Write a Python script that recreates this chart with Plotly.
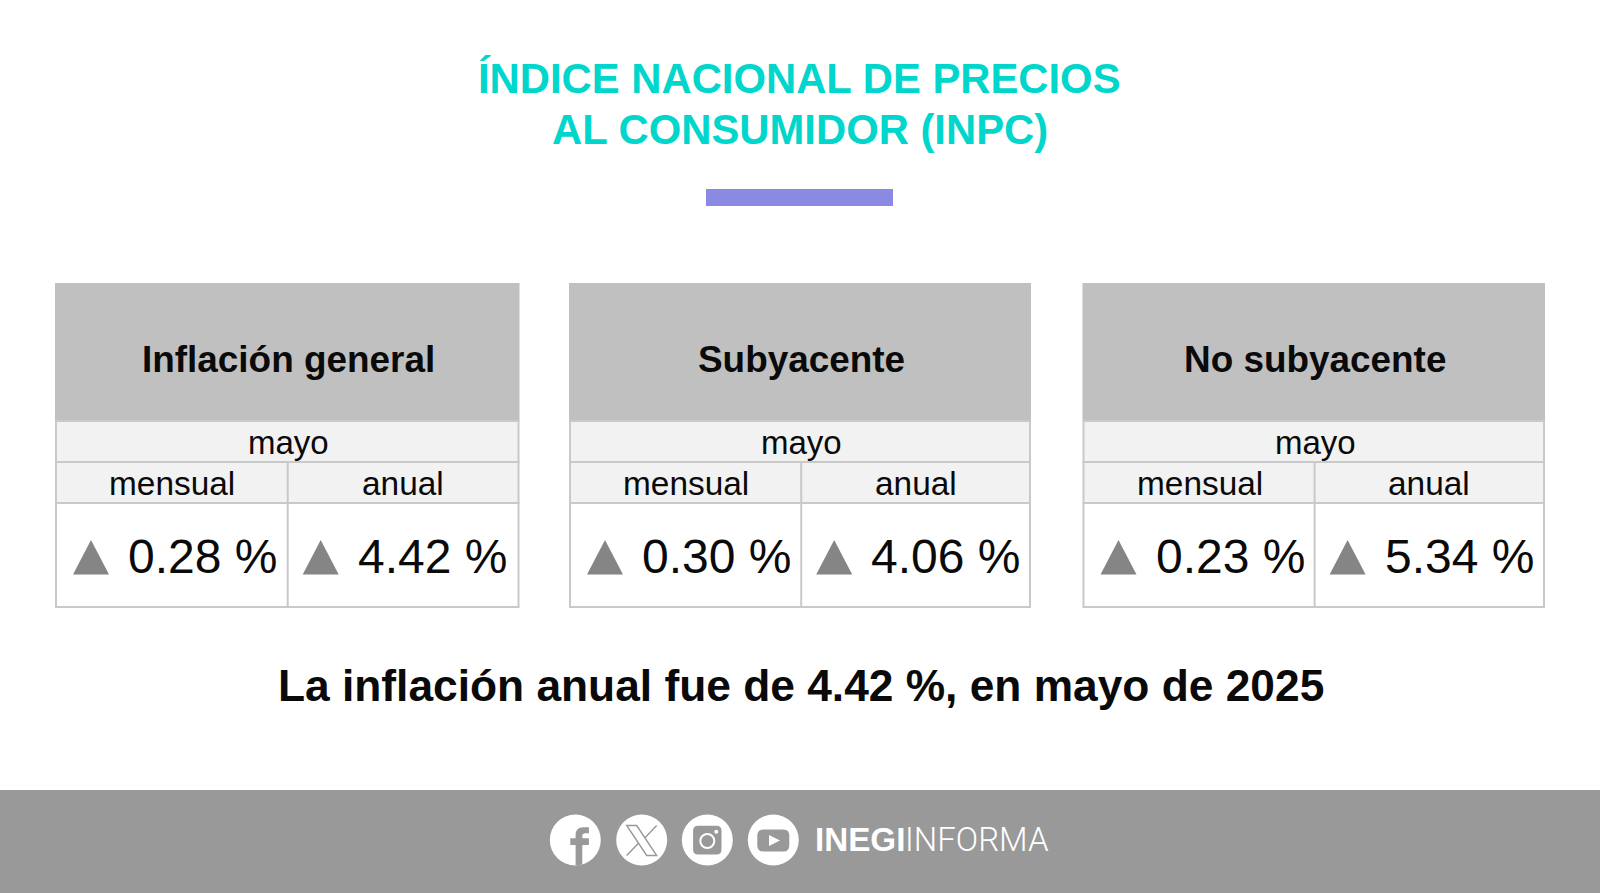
import plotly.graph_objects as go

# ---- data ----
TITLE_LINES = ["ÍNDICE NACIONAL DE PRECIOS", "AL CONSUMIDOR (INPC)"]
PANELS = ["Inflación general", "Subyacente", "No subyacente"]
PERIOD = "mayo"
COLUMNS = ["mensual", "anual"]
MENSUAL = [0.28, 0.30, 0.23]
ANUAL = [4.42, 4.06, 5.34]
SENTENCE = "La inflación anual fue de 4.42 %, en mayo de 2025"

# ---- layout ----
W, H = 1600, 893
FONT = "Liberation Sans, Arial, sans-serif"
GRAY_HEAD, GRAY_SUB, BORDER, TRI, FOOT = "#C0C0C0", "#F2F2F2", "#C9C9C9", "#858585", "#999999"
TEAL, VIOLET = "#00D6CB", "#8A8AE2"
PANEL_X = [(55, 519.5), (569, 1031), (1082.5, 1545)]
PANEL_MID = [287.7, 801.2, 1314.6]
Y_TOP, Y_HEAD, Y_MAYO, Y_SUB, Y_BOT = 283, 421, 462, 503, 607

shapes, ann = [], []


def rect(x0, y0, x1, y1, fill, line=None, lw=0):
    shapes.append(dict(type="rect", xref="x", yref="y", x0=x0, y0=y0, x1=x1, y1=y1,
                       fillcolor=fill, line=dict(color=line or fill, width=lw)))


def path(d, fill, line=None, lw=0):
    shapes.append(dict(type="path", xref="x", yref="y", path=d, fillcolor=fill,
                       line=dict(color=line or fill, width=lw)))


def circle(cx, cy, r, fill, line=None, lw=0):
    shapes.append(dict(type="circle", xref="x", yref="y", x0=cx - r, x1=cx + r, y0=cy - r, y1=cy + r,
                       fillcolor=fill, line=dict(color=line or fill, width=lw)))


def rrect(x0, y0, x1, y1, r):
    return (f"M{x0+r},{y0} L{x1-r},{y0} Q{x1},{y0} {x1},{y0+r} L{x1},{y1-r} Q{x1},{y1} {x1-r},{y1} "
            f"L{x0+r},{y1} Q{x0},{y1} {x0},{y1-r} L{x0},{y0+r} Q{x0},{y0} {x0+r},{y0} Z")


def text(x, y, s, size, color="#0a0a0a", bold=False, anchor="center", family=FONT, weight=None):
    f = dict(family=family, size=size, color=color)
    if bold:
        f["weight"] = 700
    if weight:
        f["weight"] = weight
    ann.append(dict(x=x, y=y, xref="x", yref="y", text=s, showarrow=False, font=f,
                    xanchor=anchor, yanchor="middle", align=anchor))


# title
for s, y in zip(TITLE_LINES, (78.5, 129)):
    text(799.5, y, s, 41.8, TEAL, True)
rect(706, 189, 893, 206, VIOLET)

# panels
for (x0, x1), mid, name, mens, anu in zip(PANEL_X, PANEL_MID, PANELS, MENSUAL, ANUAL):
    rect(x0, Y_TOP, x1, Y_HEAD, GRAY_HEAD)
    rect(x0 + 1, Y_HEAD, x1 - 1, Y_SUB, GRAY_SUB, BORDER, 2)
    rect(x0 + 1, Y_SUB, x1 - 1, Y_BOT, "#FFFFFF", BORDER, 2)
    shapes.append(dict(type="line", xref="x", yref="y", x0=x0, x1=x1, y0=Y_MAYO, y1=Y_MAYO,
                       line=dict(color=BORDER, width=2)))
    shapes.append(dict(type="line", xref="x", yref="y", x0=mid, x1=mid, y0=Y_MAYO, y1=Y_BOT,
                       line=dict(color=BORDER, width=2)))
    cx = (x0 + x1) / 2
    text(cx + 1.2, 359, name, 36.9, "#0a0a0a", True)
    text(cx + 1.5, 442, PERIOD, 33)
    text((x0 + mid) / 2 + 1, 483.5, COLUMNS[0], 33.4)
    text((mid + x1) / 2 - 0.5, 483.5, COLUMNS[1], 33.4)
    for left, val, tri_off, txt_off in ((x0, mens, 18, 71), (mid, anu, 15, 68)):
        tx0 = left + tri_off
        path(f"M{tx0},574.5 L{tx0+18},540 L{tx0+36},574.5 Z", TRI)
        text(left + txt_off, 556, f"{val:.2f} %", 48, "#0a0a0a", False, "left")

# sentence
text(801, 685.5, SENTENCE, 44.3, "#0a0a0a", True)

# footer
rect(0, 790, W, H, FOOT)
CY = 840
R = 25.5
ICONS = (575.3, 641.7, 707.3, 773.3)
for cx in ICONS:
    circle(cx, CY, R, "#FFFFFF")
# facebook
c = ICONS[0]
path(f"M{c+0.3},{CY+25.4} L{c+0.3},{CY+5} L{c-5},{CY+5} L{c-5},{CY-1.7} L{c+0.3},{CY-1.7} L{c+0.3},{CY-5} "
     f"Q{c+0.3},{CY-12.7} {c+8},{CY-12.7} L{c+13.6},{CY-12.7} L{c+13.6},{CY-6.7} L{c+10},{CY-6.7} "
     f"Q{c+7},{CY-6.7} {c+7},{CY-4} L{c+7},{CY-1.7} L{c+13.6},{CY-1.7} L{c+13.6},{CY+5} L{c+7},{CY+5} L{c+7},{CY+24.6} Z",
     FOOT)
# X
c = ICONS[1]
path(f"M{c-15},{CY-14.5} L{c-5},{CY-14.5} L{c+15},{CY+15.5} L{c+5},{CY+15.5} Z", "#FFFFFF", FOOT, 1.4)
path(f"M{c+15},{CY-14.5} L{c+3},{CY-2}", "#FFFFFF", FOOT, 1.4)
path(f"M{c-15},{CY+15.5} L{c-3},{CY+3}", "#FFFFFF", FOOT, 1.4)
# instagram
c = ICONS[2]
path(rrect(c - 14.2, CY - 14.2, c + 14.2, CY + 14.5, 5), FOOT)
circle(c, CY + 1, 7, FOOT, "#FFFFFF", 2)
circle(c + 9, CY - 8.3, 2, "#FFFFFF")
# youtube
c = ICONS[3]
path(rrect(c - 16, CY - 10.5, c + 16, CY + 11.5, 6), FOOT)
path(f"M{c-4.3},{CY-5} L{c+6.7},{CY+0.5} L{c-4.3},{CY+6} Z", "#FFFFFF")
# wordmark
text(812.5, 839.7, "INEGI", 33.2, "#FFFFFF", True, "left")
text(903, 839.7, "INFORMA", 33, "#FFFFFF", False, "left", "Roboto, Liberation Sans", 300)

fig = go.Figure()
fig.add_trace(go.Scatter(x=[0, W], y=[0, H], mode="markers", marker=dict(opacity=0), hoverinfo="skip", showlegend=False))
fig.update_layout(width=W, height=H, margin=dict(l=0, r=0, t=0, b=0), autosize=False,
                  paper_bgcolor="#FFFFFF", plot_bgcolor="#FFFFFF", showlegend=False,
                  xaxis=dict(range=[0, W], visible=False, fixedrange=True),
                  yaxis=dict(range=[H, 0], visible=False, fixedrange=True),
                  shapes=shapes, annotations=ann)
fig.write_html("out.html", config=dict(displayModeBar=False),
               post_script="document.body.style.margin='0';document.body.style.overflow='hidden';")
